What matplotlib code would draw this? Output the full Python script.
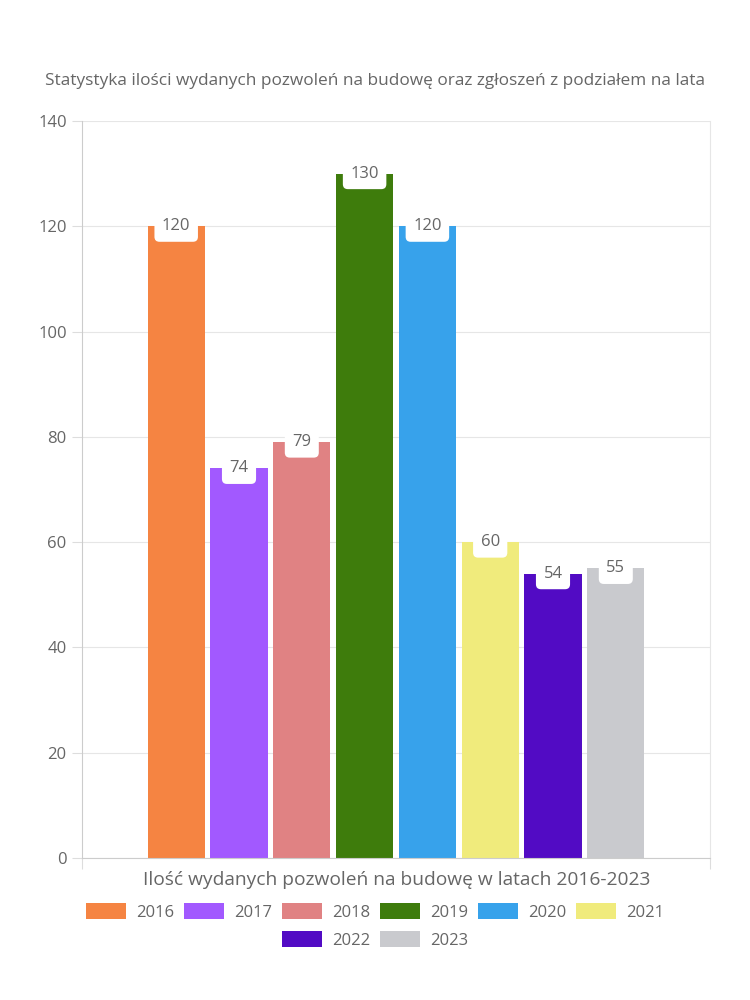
import matplotlib
matplotlib.use("Agg")
import matplotlib.pyplot as plt
from matplotlib.patches import Patch

years = ["2016", "2017", "2018", "2019", "2020", "2021", "2022", "2023"]
values = [120, 74, 79, 130, 120, 60, 54, 55]
colors = ["#F58442", "#A259FF", "#E08283", "#3E7C0C", "#37A2EB", "#F0EB7C", "#520BC4", "#C9CACE"]
title = "Statystyka ilości wydanych pozwoleń na budowę oraz zgłoszeń z podziałem na lata"
xlabel = "Ilość wydanych pozwoleń na budowę w latach 2016-2023"
yticks = [0, 20, 40, 60, 80, 100, 120, 140]

plt.rcParams['font.family'] = ['Open Sans', 'DejaVu Sans']
txt = "#666666"

fig = plt.figure(figsize=(7.5, 10), dpi=100)
ax = fig.add_axes([82/750, 1-858/1000, (710-82)/750, (858-121)/1000])

xs = list(range(len(years)))
ax.bar(xs, values, width=0.91, color=colors, zorder=2)
for x, v in zip(xs, values):
    ax.text(x, v, str(v), ha='center', va='center', fontsize=12, color=txt, zorder=4,
            bbox=dict(boxstyle='round,pad=0.45,rounding_size=0.3', fc='white', ec='none'))

ax.set_xlim(-1.5, 8.5)
ax.set_ylim(0, 140)
ax.set_yticks(yticks)
ax.set_yticklabels([str(t) for t in yticks], fontsize=12, color=txt)
ax.set_xticks([-1.5, 8.5])
ax.set_xticklabels(["", ""])
ax.tick_params(axis='y', length=7, color='#dddddd', pad=4)
ax.tick_params(axis='x', length=8, color='#dddddd')
ax.grid(axis='y', color='#e6e6e6', linewidth=0.8, zorder=0)
for s in ['left', 'right', 'top', 'bottom']:
    ax.spines[s].set_color('#e6e6e6')
    ax.spines[s].set_linewidth(0.8)
ax.spines['bottom'].set_color('#cccccc')
ax.spines['left'].set_color('#cccccc')
ax.spines['top'].set_visible(False)

fig.text(375/750, 1-81/1000, title, ha='center', va='center', fontsize=12.4, color=txt)
fig.text(397/750, 1-880/1000, xlabel, ha='center', va='center', fontsize=13.8, color=txt)

handles = [Patch(facecolor=c, edgecolor='none') for c in colors]
kw = dict(frameon=False, fontsize=12, labelcolor=txt, handlelength=2.4, handleheight=1.1,
          columnspacing=0.6, handletextpad=0.6)
fig.legend(handles[:6], years[:6], loc='center', bbox_to_anchor=(375/750, 1-912/1000), ncol=6, **kw)
fig.legend(handles[6:], years[6:], loc='center', bbox_to_anchor=(375/750, 1-940/1000), ncol=2, **kw)

fig.savefig("out.png", dpi=100, facecolor='white')
